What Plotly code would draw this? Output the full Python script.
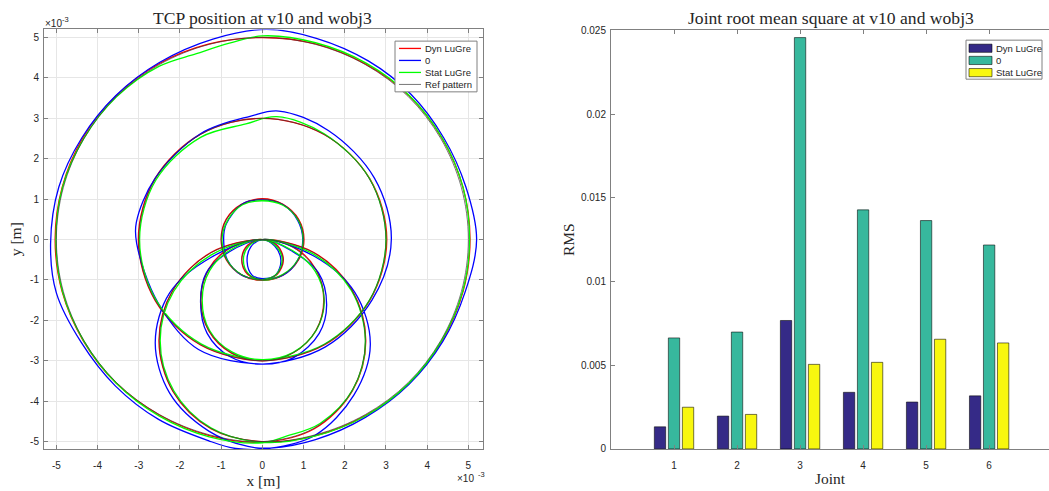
import plotly.graph_objects as go

# ---------------- TCP trajectories (units of 1e-3 m) ----------------
ref_x = [0.00, -0.35, -0.50, -0.35, 0.00, 0.50, 0.87, 1.00, 0.87, 0.50, 0.00, -0.50, -0.87, -1.00, -0.87, -0.50, 0.00,
         0.35, 0.50, 0.35, 0.00, -0.75, -1.30, -1.50, -1.30, -0.75, 0.00,
         1.50, 2.60, 3.00, 2.60, 1.50, 0.00, -1.50, -2.60, -3.00, -2.60, -1.50, 0.00,
         0.75, 1.30, 1.50, 1.30, 0.75, 0.00, -1.25, -2.17, -2.50, -2.17, -1.25, 0.00,
         1.29, 2.50, 3.54, 4.33, 4.83, 5.00, 4.83, 4.33, 3.54, 2.50, 1.29, 0.00, -1.29, -2.50, -3.54, -4.33, -4.83,
         -5.00, -4.83, -4.33, -3.54, -2.50, -1.29, 0.00,
         1.25, 2.17, 2.50, 2.17, 1.25, 0.00]
ref_y = [0.00, -0.15, -0.50, -0.85, -1.00, -0.87, -0.50, 0.00, 0.50, 0.87, 1.00, 0.87, 0.50, 0.00, -0.50, -0.87, -1.00,
         -0.85, -0.50, -0.15, 0.00, -0.20, -0.75, -1.50, -2.25, -2.80, -3.00,
         -2.60, -1.50, 0.00, 1.50, 2.60, 3.00, 2.60, 1.50, 0.00, -1.50, -2.60, -3.00,
         -2.80, -2.25, -1.50, -0.75, -0.20, 0.00, -0.33, -1.25, -2.50, -3.75, -4.67, -5.00,
         -4.83, -4.33, -3.54, -2.50, -1.29, 0.00, 1.29, 2.50, 3.54, 4.33, 4.83, 5.00, 4.83, 4.33, 3.54, 2.50, 1.29,
         0.00, -1.29, -2.50, -3.54, -4.33, -4.83, -5.00,
         -4.67, -3.75, -2.50, -1.25, -0.33, 0.00]

dyn_x = [0.00, -0.36, -0.50, -0.36, 0.00, 0.50, 0.88, 1.01, 0.88, 0.50, 0.00, -0.51, -0.88, -1.00, -0.87, -0.50, 0.00,
         0.36, 0.51, 0.36, 0.00, -0.75, -1.31, -1.49, -1.30, -0.75, 0.00,
         1.50, 2.61, 3.02, 2.61, 1.50, 0.00, -1.50, -2.61, -3.01, -2.60, -1.50, 0.00,
         0.75, 1.30, 1.49, 1.30, 0.75, 0.00, -1.25, -2.17, -2.51, -2.17, -1.25, 0.00,
         1.29, 2.51, 3.56, 4.36, 4.87, 5.04, 4.87, 4.36, 3.56, 2.51, 1.29, 0.00, -1.29, -2.51, -3.56, -4.36, -4.86,
         -5.03, -4.86, -4.35, -3.55, -2.50, -1.29, 0.00,
         1.26, 2.18, 2.51, 2.17, 1.25, 0.00]
dyn_y = [0.00, -0.14, -0.50, -0.86, -1.00, -0.88, -0.50, 0.00, 0.50, 0.87, 1.01, 0.87, 0.50, 0.00, -0.51, -0.88, -1.00,
         -0.86, -0.50, -0.14, 0.00, -0.18, -0.74, -1.50, -2.26, -2.81, -3.00,
         -2.61, -1.50, 0.00, 1.50, 2.60, 3.00, 2.61, 1.50, 0.00, -1.51, -2.61, -3.00,
         -2.80, -2.25, -1.50, -0.74, -0.18, 0.00, -0.32, -1.25, -2.50, -3.76, -4.68, -5.00,
         -4.85, -4.35, -3.56, -2.51, -1.29, 0.00, 1.29, 2.51, 3.56, 4.34, 4.84, 5.00, 4.84, 4.35, 3.55, 2.51, 1.29,
         0.00, -1.29, -2.50, -3.55, -4.34, -4.85, -5.01,
         -4.68, -3.75, -2.50, -1.24, -0.32, 0.00]

stat_x = [0.00, -0.33, -0.46, -0.33, 0.00, 0.50, 0.86, 0.99, 0.87, 0.50, 0.00, -0.48, -0.84, -0.98, -0.86, -0.50, 0.00,
          0.34, 0.48, 0.34, 0.00, -0.75, -1.28, -1.46, -1.28, -0.74, 0.00,
          1.50, 2.60, 3.00, 2.60, 1.50, 0.35, -0.40, -1.50, -2.58, -2.98, -2.58, -1.49, 0.00,
          0.75, 1.31, 1.50, 1.28, 0.73, 0.00, -1.24, -2.15, -2.48, -2.15, -1.25, 0.00,
          1.29, 2.51, 3.56, 4.35, 4.86, 5.03, 4.87, 4.37, 3.57, 2.53, 1.29, 0.00, -0.80, -1.60, -2.50, -3.54, -4.34,
          -4.85, -5.01, -4.85, -4.34, -3.55, -2.50, -1.29, 0.00,
          0.60, 1.40, 2.20, 2.50, 2.16, 1.24, 0.00]
stat_y = [0.00, -0.16, -0.50, -0.86, -1.00, -0.86, -0.50, 0.00, 0.48, 0.85, 0.96, 0.86, 0.48, 0.00, -0.50, -0.87, -0.99,
          -0.86, -0.50, -0.17, 0.00, -0.24, -0.77, -1.50, -2.25, -2.78, -2.97,
          -2.59, -1.50, 0.00, 1.51, 2.62, 3.04, 2.86, 2.53, 1.48, 0.00, -1.50, -2.58, -2.97,
          -2.79, -2.24, -1.50, -0.78, -0.27, 0.00, -0.38, -1.28, -2.50, -3.74, -4.66, -5.02,
          -4.86, -4.36, -3.55, -2.50, -1.29, 0.00, 1.29, 2.50, 3.56, 4.36, 4.87, 5.04, 4.86, 4.60, 4.29, 3.53, 2.49,
          1.29, 0.00, -1.29, -2.50, -3.55, -4.37, -4.88, -5.03,
          -4.86, -4.55, -3.70, -2.50, -1.26, -0.36, 0.00]

zero_x = [0.00, -0.28, -0.37, -0.25, 0.00, 0.50, 0.85, 0.98, 0.86, 0.50, 0.00, -0.46, -0.88, -0.94, -0.85, -0.50, 0.00,
          0.32, 0.45, 0.30, 0.00, -0.80, -1.36, -1.50, -1.34, -0.78, 0.00,
          1.52, 2.66, 3.13, 2.72, 1.60, 0.40, -0.30, -1.50, -2.60, -3.06, -3.05, -2.53, -1.55, 0.00,
          0.76, 1.38, 1.56, 1.36, 0.74, 0.00, -1.26, -2.25, -2.60, -2.25, -1.30, -0.35,
          0.20, 1.29, 2.50, 3.56, 4.38, 4.92, 5.20, 4.94, 4.40, 3.60, 2.57, 1.31, 0.10, -1.20, -2.50, -3.56, -4.38,
          -4.94, -5.14, -5.00, -4.40, -3.57, -2.52, -1.30, -0.65, 0.15,
          1.27, 2.22, 2.62, 2.24, 1.27, 0.00]
zero_y = [0.00, -0.18, -0.55, -0.88, -0.97, -0.88, -0.52, 0.00, 0.47, 0.86, 0.98, 0.90, 0.38, 0.00, -0.50, -0.88, -0.97,
          -0.88, -0.52, -0.16, 0.00, -0.30, -0.82, -1.55, -2.32, -2.90, -3.08,
          -2.66, -1.50, 0.00, 1.52, 2.70, 3.18, 3.05, 2.62, 1.52, 0.42, -0.10, -1.57, -2.72, -3.08,
          -2.92, -2.32, -1.62, -0.82, -0.30, 0.00, -0.45, -1.32, -2.55, -3.80, -4.74, -5.12,
          -5.16, -4.95, -4.40, -3.58, -2.52, -1.30, 0.00, 1.30, 2.52, 3.60, 4.42, 4.98, 5.20, 4.96, 4.38, 3.56, 2.52,
          1.30, -0.10, -1.32, -2.54, -3.62, -4.45, -4.98, -5.17, -5.17,
          -4.85, -3.85, -2.60, -1.30, -0.42, 0.00]

pos_ticks = [-5, -4, -3, -2, -1, 0, 1, 2, 3, 4, 5]
pos_ticktext = ["-5", "-4", "-3", "-2", "-1", "0", "1", "2", "3", "4", "5"]

# ---------------- Joint RMS values ----------------
joints = [1, 2, 3, 4, 5, 6]
rms_dyn = [0.00132, 0.00196, 0.00767, 0.00338, 0.00280, 0.00317]
rms_zero = [0.00663, 0.00698, 0.02457, 0.01428, 0.01364, 0.01218]
rms_stat = [0.00249, 0.00206, 0.00505, 0.00517, 0.00655, 0.00633]
rms_ticks = [0, 0.005, 0.01, 0.015, 0.02, 0.025]
rms_ticktext = ["0", "0.005", "0.01", "0.015", "0.02", "0.025"]

W, H = 1049, 491
SERIF = "Liberation Serif, Times New Roman, serif"
SANS = "Liberation Sans, Arial, sans-serif"
TXT = "#262626"
AX = "#808080"


def px_x(p):
    return p / W


def px_y(p):
    return 1 - p / H


fig = go.Figure()

line_series = [
    ("Dyn LuGre", dyn_x, dyn_y, "#ff0000", 1.3),
    ("0", zero_x, zero_y, "#0000ff", 1.3),
    ("Stat LuGre", stat_x, stat_y, "#00ff00", 1.3),
    ("Ref pattern", ref_x, ref_y, "#3a3a3a", 0.7),
]
for name, xs, ys, col, w in line_series:
    fig.add_trace(go.Scatter(
        x=xs, y=ys, mode="lines", name=name, showlegend=False,
        line=dict(color=col, width=w, shape="spline", smoothing=1.0),
        xaxis="x", yaxis="y",
    ))

bar_series = [
    ("Dyn LuGre", rms_dyn, "#352a87"),
    ("0", rms_zero, "#37b89d"),
    ("Stat LuGre", rms_stat, "#f8f70f"),
]
for name, vals, col in bar_series:
    fig.add_trace(go.Bar(
        x=joints, y=vals, name=name, showlegend=False,
        marker=dict(color=col, line=dict(color="rgba(0,0,0,0.55)", width=1)),
        xaxis="x2", yaxis="y2",
    ))

axis_common = dict(
    showline=True, linecolor=AX, linewidth=1, ticks="inside", ticklen=4,
    tickcolor=AX, zeroline=False,
    tickfont=dict(family=SANS, size=10, color=TXT),
)
title_font = dict(family=SERIF, size=15.5, color=TXT)

shapes = []
annotations = []


def text(t, x, y, size, family=SERIF, xanchor="center"):
    annotations.append(dict(
        text=t, x=px_x(x), y=px_y(y), xref="paper", yref="paper", showarrow=False,
        font=dict(family=family, size=size, color=TXT), xanchor=xanchor, yanchor="middle",
    ))


# panel titles
text("TCP position at v10 and wobj3", 262, 12, 17.6)
text("Joint root mean square at v10 and wobj3", 831, 12, 17.6)

# axis exponent markers (x10^-3)
text("×10", 43, 18, 10, family=SANS, xanchor="left")
text("-3", 60, 14, 7.5, family=SANS, xanchor="left")
text("×10", 476, 484, 10, family=SANS, xanchor="right")
text("-3", 476, 480, 7.5, family=SANS, xanchor="left")

# legend of the trajectory panel
shapes.append(dict(type="rect", xref="paper", yref="paper",
                   x0=px_x(395), x1=px_x(477), y0=px_y(36), y1=px_y(88),
                   fillcolor="white", line=dict(color=AX, width=1), layer="above"))
rows_left = [43.5, 55.8, 68.1, 80.4]
for (name, _, _, col, w), yy in zip(line_series, rows_left):
    shapes.append(dict(type="line", xref="paper", yref="paper",
                       x0=px_x(399), x1=px_x(421), y0=px_y(yy), y1=px_y(yy),
                       line=dict(color=col, width=w if w < 1 else 1.3), layer="above"))
    text(name, 423, yy, 9.5, family=SANS, xanchor="left")

# legend of the RMS panel
shapes.append(dict(type="rect", xref="paper", yref="paper",
                   x0=px_x(966), x1=px_x(1042), y0=px_y(35), y1=px_y(75),
                   fillcolor="white", line=dict(color=AX, width=1), layer="above"))
rows_right = [43.3, 55.8, 68.3]
for (name, _, col), yy in zip(bar_series, rows_right):
    shapes.append(dict(type="rect", xref="paper", yref="paper",
                       x0=px_x(969), x1=px_x(992), y0=px_y(yy - 4.2), y1=px_y(yy + 4.2),
                       fillcolor=col, line=dict(color="rgba(0,0,0,0.55)", width=1), layer="above"))
    text(name, 994, yy, 9.5, family=SANS, xanchor="left")

fig.update_layout(
    width=W, height=H,
    margin=dict(l=0, r=0, t=0, b=0),
    paper_bgcolor="white", plot_bgcolor="white",
    barmode="group", bargap=0.333, bargroupgap=0.19,
    showlegend=False,
    xaxis=dict(
        domain=[px_x(44), px_x(483)], range=[-5.30, 5.355],
        tickvals=pos_ticks, ticktext=pos_ticktext, ticklabelstandoff=7,
        showgrid=True, gridcolor="#e6e6e6", mirror="ticks", anchor="y",
        title=dict(text="x [m]", font=title_font, standoff=5),
        **axis_common,
    ),
    yaxis=dict(
        domain=[px_y(454), px_y(24)], range=[-5.18, 5.2],
        tickvals=pos_ticks, ticktext=pos_ticktext, ticklabelstandoff=2,
        showgrid=True, gridcolor="#e6e6e6", mirror="ticks", anchor="x",
        title=dict(text="y [m]", font=title_font, standoff=4),
        **axis_common,
    ),
    xaxis2=dict(
        domain=[px_x(611), 1.0], range=[0, 6.95],
        tickvals=joints, ticklabelstandoff=7,
        showgrid=False, mirror="ticks", anchor="y2",
        title=dict(text="Joint", font=title_font, standoff=3),
        **axis_common,
    ),
    yaxis2=dict(
        domain=[px_y(454), px_y(25)], range=[0, 0.025],
        tickvals=rms_ticks, ticktext=rms_ticktext, ticklabelstandoff=2,
        showgrid=False, anchor="x2",
        title=dict(text="RMS", font=title_font, standoff=2),
        **axis_common,
    ),
    shapes=shapes,
    annotations=annotations,
)

fig.write_html("out.html")
